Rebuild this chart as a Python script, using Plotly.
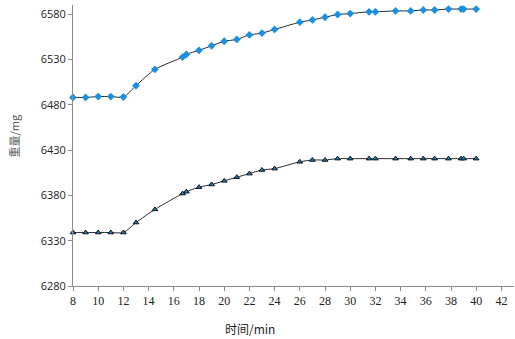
import plotly.graph_objects as go

time_min = [8, 9, 10, 11, 12, 13, 14.5, 16.7, 17, 18, 19, 20, 21, 22, 23, 24, 26, 27, 28, 29,
            30, 31.5, 32, 33.6, 34.8, 35.8, 36.7, 37.8, 38.8, 39, 40]
upper_mg = [6488, 6488, 6489, 6489, 6488.5, 6501, 6519, 6532.5, 6535.5, 6540, 6545, 6550, 6552,
            6557, 6559, 6563, 6571, 6573.5, 6576.5, 6579.5, 6580.5, 6582.5, 6582.5, 6583.5,
            6583.5, 6584.5, 6584.5, 6585.5, 6585.5, 6585.5, 6585.5]
lower_mg = [6339, 6339, 6339, 6339, 6339, 6350, 6364.5, 6382, 6384, 6389, 6392, 6396, 6400,
            6404, 6408, 6409.5, 6417, 6419, 6419, 6420.5, 6420.5, 6420.5, 6420.5, 6420.5,
            6420.5, 6420.5, 6420.5, 6420.5, 6420.5, 6420.5, 6420.5]
x_ticks = list(range(8, 43, 2))
y_ticks = list(range(6280, 6581, 50))

fig = go.Figure()
fig.add_trace(go.Scatter(
    x=time_min, y=upper_mg, mode="lines+markers",
    line=dict(color="#2a2a2a", width=1, shape="spline", smoothing=0.7),
    marker=dict(symbol="diamond", size=6, color="#1b8fe0", line=dict(width=0)),
    showlegend=False, cliponaxis=False))
fig.add_trace(go.Scatter(
    x=time_min, y=lower_mg, mode="lines+markers",
    line=dict(color="#2a2a2a", width=1, shape="spline", smoothing=0.7),
    marker=dict(symbol="triangle-up", size=5, color="#1a7fc0", line=dict(width=1, color="#111111")),
    showlegend=False, cliponaxis=False))

fig.update_layout(
    width=515, height=339,
    margin=dict(l=73, r=1, t=5, b=53, autoexpand=False),
    paper_bgcolor="white", plot_bgcolor="white",
    xaxis=dict(range=[8, 43], tickvals=x_ticks, ticktext=[str(v) for v in x_ticks],
               automargin=False,
               showgrid=False, zeroline=False, showline=True, linecolor="#8c8c8c", linewidth=1,
               ticks="outside", ticklen=4, tickcolor="#8c8c8c",
               tickfont=dict(family="Liberation Serif", size=12, color="#222222")),
    yaxis=dict(range=[6280, 6590], tickvals=y_ticks, ticktext=[str(v) for v in y_ticks],
               automargin=False,
               showgrid=False, zeroline=False, showline=True, linecolor="#8c8c8c", linewidth=1,
               ticks="outside", ticklen=4, tickcolor="#8c8c8c",
               tickfont=dict(family="Open Sans", size=11, color="#222222")),
    annotations=[
        dict(text="时间/min", xref="paper", yref="paper", x=0.4016, y=-0.115,
             xanchor="center", yanchor="top", showarrow=False,
             font=dict(family="Noto Sans CJK SC", size=12, color="#222222")),
        dict(text="重量/mg", xref="paper", yref="paper", x=-0.134, y=0.535,
             xanchor="center", yanchor="middle", showarrow=False, textangle=-90,
             font=dict(family="Noto Sans CJK SC", size=11, color="#555555")),
    ],
)

fig.write_html("out.html", config={"displayModeBar": False},
               post_script="document.body.style.margin='0';document.body.style.padding='0';")
